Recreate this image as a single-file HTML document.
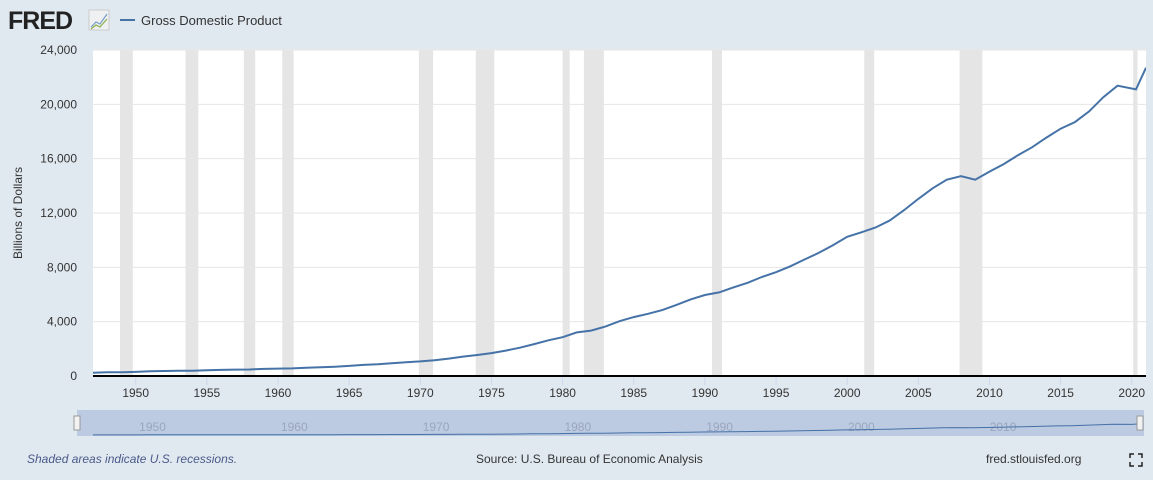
<!DOCTYPE html>
<html><head><meta charset="utf-8"><style>
body{margin:0;background:#e1e9f0;font-family:"Liberation Sans",sans-serif;}
svg text{font-family:"Liberation Sans",sans-serif;}
</style></head><body>
<svg id="c" width="1153" height="475">
<defs><clipPath id="pc"><rect x="93" y="40" width="1053" height="340"/></clipPath></defs>
<rect width="1153" height="475" fill="#e1e9f0"/>
<text x="8" y="29" font-size="25" font-weight="bold" fill="#222" letter-spacing="-1">FRED</text>
<rect x="89" y="10" width="20" height="20" fill="#eef0f2" stroke="#ccc"/>
<polyline points="91,27 96,22 100,24 107,14" fill="none" stroke="#7a9cc6" stroke-width="1.2"/>
<polyline points="91,29 96,25 100,27 107,19" fill="none" stroke="#8ab04a" stroke-width="1.2"/>
<line x1="120" y1="20" x2="135" y2="20" stroke="#4572a7" stroke-width="2"/>
<text x="141" y="25" font-size="13" fill="#333">Gross Domestic Product</text>
<rect x="93" y="50" width="1053" height="326" fill="#fff"/>
<g id="rec"></g><g id="grid"></g><g id="yt"></g><g id="xt"></g>
<line x1="93" y1="376" x2="1146" y2="376" stroke="#000" stroke-width="2"/>
<path id="line" clip-path="url(#pc)" fill="none" stroke="#4572a7" stroke-width="2"/>
<text transform="translate(22,213) rotate(-90)" text-anchor="middle" font-size="12" fill="#333">Billions of Dollars</text>
<rect x="77" y="410" width="1067" height="26" fill="#bccae2"/>
<g id="nav"></g>
<path id="navline" fill="none" stroke="#4572a7" stroke-width="1"/>
<rect x="74" y="416" width="6" height="14" fill="#f2f2f2" stroke="#999"/>
<rect x="1137" y="416" width="6" height="14" fill="#f2f2f2" stroke="#999"/>
<text x="27" y="463" font-size="12" font-style="italic" fill="#4a5a8a">Shaded areas indicate U.S. recessions.</text>
<text x="476" y="463" font-size="12" fill="#333">Source: U.S. Bureau of Economic Analysis</text>
<text x="986" y="463" font-size="12" fill="#333">fred.stlouisfed.org</text>
<g stroke="#222" stroke-width="1.5" fill="none">
<path d="M1130,458v-4h4M1138,454h4v4M1142,462v4h-4M1134,466h-4v-4"/></g>
</svg>
<script>
const years=[1947,1948,1949,1950,1951,1952,1953,1954,1955,1956,1957,1958,1959,1960,1961,1962,1963,1964,1965,1966,1967,1968,1969,1970,1971,1972,1973,1974,1975,1976,1977,1978,1979,1980,1981,1982,1983,1984,1985,1986,1987,1988,1989,1990,1991,1992,1993,1994,1995,1996,1997,1998,1999,2000,2001,2002,2003,2004,2005,2006,2007,2008,2009,2010,2011,2012,2013,2014,2015,2016,2017,2018,2019,2020.3,2021];
const gdp=[244,270,272,300,347,367,389,391,425,449,474,482,522,543,563,605,639,686,744,815,862,943,1019,1073,1165,1279,1425,1545,1684,1873,2082,2352,2627,2857,3207,3343,3634,4037,4339,4580,4855,5236,5642,5963,6158,6520,6859,7287,7640,8073,8578,9063,9631,10251,10582,10936,11458,12214,13037,13815,14452,14713,14449,15049,15600,16254,16843,17551,18206,18695,19480,20527,21373,21100,22700];
const recStart=[1948.9,1953.5,1957.6,1960.3,1969.9,1973.9,1980.0,1981.5,1990.5,2001.2,2007.9,2020.1];
const recEnd=[1949.8,1954.4,1958.4,1961.1,1970.9,1975.2,1980.5,1982.9,1991.2,2001.9,2009.5,2020.4];
const yTicks=[0,4000,8000,12000,16000,20000,24000];
const xTicks=[1950,1955,1960,1965,1970,1975,1980,1985,1990,1995,2000,2005,2010,2015,2020];
const navTicks=[1950,1960,1970,1980,1990,2000,2010];
const X=y=>93+(y-1947)*1053/74, Y=v=>376-v*326/24000;
const NX=y=>93+(y-1947)*1049/74, NY=v=>435-v*12/24000;
const ns="http://www.w3.org/2000/svg";
function mk(t,p,a){const e=document.createElementNS(ns,t);for(const k in a)e.setAttribute(k,a[k]);p.appendChild(e);return e;}
const rec=document.getElementById('rec'),grid=document.getElementById('grid'),yt=document.getElementById('yt'),xt=document.getElementById('xt'),nav=document.getElementById('nav');
recStart.forEach((s,i)=>{const r=mk('rect',rec,{x:X(s),y:50,width:Math.max(X(recEnd[i])-X(s),3),height:326,fill:'#e5e5e5'});

});
yTicks.forEach(v=>{if(v>0){const l=mk('line',grid,{x1:93,x2:1146,y1:Y(v),y2:Y(v),stroke:'#e6e6e6'});

}
const t=mk('text',yt,{x:77,y:Y(v)+4,'text-anchor':'end','font-size':12,fill:'#333'});t.textContent=v.toLocaleString('en-US');

});
xTicks.forEach(y=>{mk('line',xt,{x1:X(y),x2:X(y),y1:377,y2:385,stroke:'#ccd6eb'});
const t=mk('text',xt,{x:X(y),y:397,'text-anchor':'middle','font-size':12,fill:'#333'});t.textContent=y;

});
navTicks.forEach(y=>{const t=mk('text',nav,{x:NX(y)+17,y:431,'text-anchor':'middle','font-size':12,fill:'#9aa6bd'});t.textContent=y;

});
document.getElementById('line').setAttribute('d',years.map((y,i)=>(i?'L':'M')+X(y).toFixed(1)+','+Y(gdp[i]).toFixed(1)).join(''));
document.getElementById('navline').setAttribute('d',years.map((y,i)=>(i?'L':'M')+NX(y).toFixed(1)+','+NY(gdp[i]).toFixed(1)).join(''));
</script>
</body></html>
